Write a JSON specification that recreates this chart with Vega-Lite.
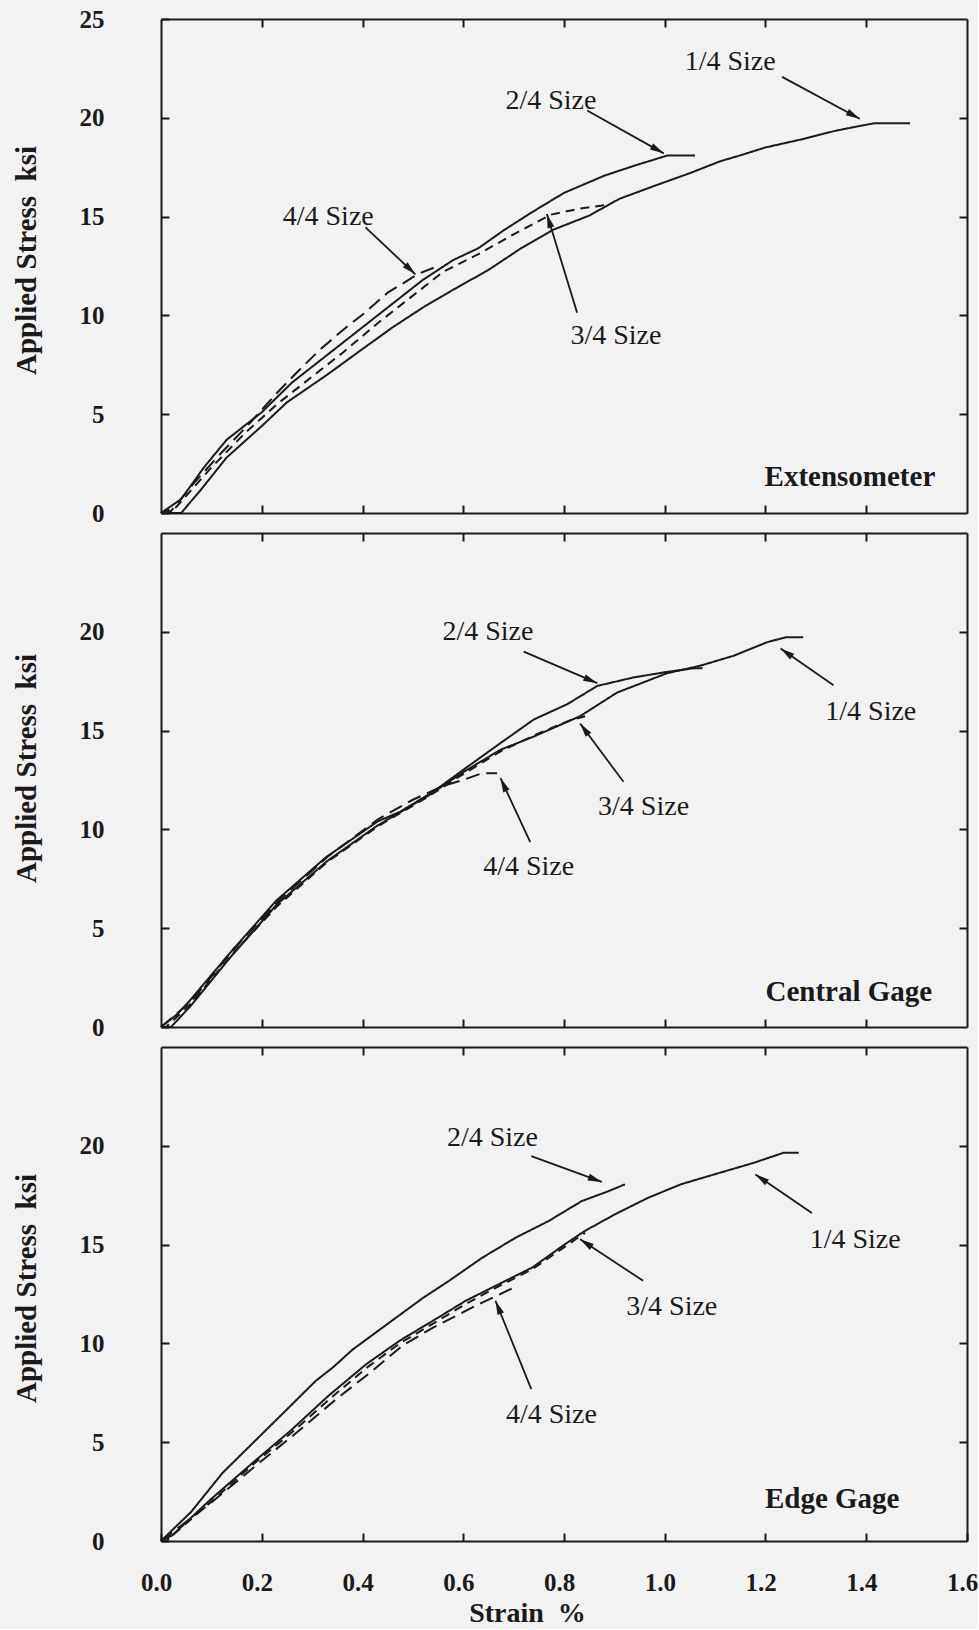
{
  "$schema": "https://vega.github.io/schema/vega-lite/v6.json",
  "background": "#f2f2f2",
  "padding": {"left": 12, "top": 7, "right": 0, "bottom": 2},
  "bounds": "flush",
  "spacing": 20,
  "config": {
    "view": {"stroke": null},
    "axis": {
      "domainColor": "#1a1a1a", "domainWidth": 2,
      "tickColor": "#1a1a1a", "tickWidth": 2, "tickSize": -8,
      "grid": false, "labelFlush": false, "labelOverlap": false,
      "labelFont": "Liberation Serif", "labelFontWeight": "bold", "labelFontSize": 25, "labelColor": "#1a1a1a",
      "titleFont": "Liberation Serif", "titleFontWeight": "bold", "titleColor": "#1a1a1a"
    },
    "text": {"font": "Liberation Serif", "color": "#1a1a1a"}
  },
  "datasets": {
    "curves": [
      {"panel":"ext","size":"1/4","strain":0.0,"stress":0.0},
      {"panel":"ext","size":"1/4","strain":0.04,"stress":0.0},
      {"panel":"ext","size":"1/4","strain":0.08,"stress":1.2},
      {"panel":"ext","size":"1/4","strain":0.13,"stress":2.8},
      {"panel":"ext","size":"1/4","strain":0.2,"stress":4.4},
      {"panel":"ext","size":"1/4","strain":0.25,"stress":5.6},
      {"panel":"ext","size":"1/4","strain":0.33,"stress":7.0},
      {"panel":"ext","size":"1/4","strain":0.4,"stress":8.3},
      {"panel":"ext","size":"1/4","strain":0.46,"stress":9.4},
      {"panel":"ext","size":"1/4","strain":0.52,"stress":10.4},
      {"panel":"ext","size":"1/4","strain":0.58,"stress":11.3},
      {"panel":"ext","size":"1/4","strain":0.65,"stress":12.3},
      {"panel":"ext","size":"1/4","strain":0.715,"stress":13.4},
      {"panel":"ext","size":"1/4","strain":0.78,"stress":14.35},
      {"panel":"ext","size":"1/4","strain":0.85,"stress":15.05},
      {"panel":"ext","size":"1/4","strain":0.91,"stress":15.9},
      {"panel":"ext","size":"1/4","strain":0.98,"stress":16.56},
      {"panel":"ext","size":"1/4","strain":1.05,"stress":17.2},
      {"panel":"ext","size":"1/4","strain":1.11,"stress":17.8},
      {"panel":"ext","size":"1/4","strain":1.15,"stress":18.1},
      {"panel":"ext","size":"1/4","strain":1.2,"stress":18.5},
      {"panel":"ext","size":"1/4","strain":1.27,"stress":18.9},
      {"panel":"ext","size":"1/4","strain":1.34,"stress":19.35},
      {"panel":"ext","size":"1/4","strain":1.39,"stress":19.6},
      {"panel":"ext","size":"1/4","strain":1.417,"stress":19.73},
      {"panel":"ext","size":"1/4","strain":1.487,"stress":19.73},
      {"panel":"ext","size":"2/4","strain":0.0,"stress":0.0},
      {"panel":"ext","size":"2/4","strain":0.04,"stress":0.7},
      {"panel":"ext","size":"2/4","strain":0.085,"stress":2.3},
      {"panel":"ext","size":"2/4","strain":0.13,"stress":3.7},
      {"panel":"ext","size":"2/4","strain":0.2,"stress":5.1},
      {"panel":"ext","size":"2/4","strain":0.26,"stress":6.6},
      {"panel":"ext","size":"2/4","strain":0.33,"stress":8.0},
      {"panel":"ext","size":"2/4","strain":0.4,"stress":9.4},
      {"panel":"ext","size":"2/4","strain":0.46,"stress":10.6},
      {"panel":"ext","size":"2/4","strain":0.52,"stress":11.8},
      {"panel":"ext","size":"2/4","strain":0.58,"stress":12.8},
      {"panel":"ext","size":"2/4","strain":0.63,"stress":13.4},
      {"panel":"ext","size":"2/4","strain":0.68,"stress":14.3},
      {"panel":"ext","size":"2/4","strain":0.735,"stress":15.2},
      {"panel":"ext","size":"2/4","strain":0.8,"stress":16.2},
      {"panel":"ext","size":"2/4","strain":0.88,"stress":17.07},
      {"panel":"ext","size":"2/4","strain":0.94,"stress":17.58},
      {"panel":"ext","size":"2/4","strain":1.005,"stress":18.09},
      {"panel":"ext","size":"2/4","strain":1.06,"stress":18.09},
      {"panel":"ext","size":"3/4","strain":0.0,"stress":0.0},
      {"panel":"ext","size":"3/4","strain":0.03,"stress":0.3},
      {"panel":"ext","size":"3/4","strain":0.1,"stress":2.3},
      {"panel":"ext","size":"3/4","strain":0.165,"stress":4.0},
      {"panel":"ext","size":"3/4","strain":0.23,"stress":5.5},
      {"panel":"ext","size":"3/4","strain":0.3,"stress":6.9},
      {"panel":"ext","size":"3/4","strain":0.36,"stress":8.1},
      {"panel":"ext","size":"3/4","strain":0.43,"stress":9.6},
      {"panel":"ext","size":"3/4","strain":0.5,"stress":11.0},
      {"panel":"ext","size":"3/4","strain":0.56,"stress":12.2},
      {"panel":"ext","size":"3/4","strain":0.63,"stress":13.1},
      {"panel":"ext","size":"3/4","strain":0.7,"stress":14.1},
      {"panel":"ext","size":"3/4","strain":0.774,"stress":15.1},
      {"panel":"ext","size":"3/4","strain":0.83,"stress":15.4},
      {"panel":"ext","size":"3/4","strain":0.886,"stress":15.6},
      {"panel":"ext","size":"4/4","strain":0.0,"stress":0.0},
      {"panel":"ext","size":"4/4","strain":0.02,"stress":0.1},
      {"panel":"ext","size":"4/4","strain":0.065,"stress":1.5},
      {"panel":"ext","size":"4/4","strain":0.118,"stress":3.0},
      {"panel":"ext","size":"4/4","strain":0.171,"stress":4.4},
      {"panel":"ext","size":"4/4","strain":0.231,"stress":6.1},
      {"panel":"ext","size":"4/4","strain":0.277,"stress":7.3},
      {"panel":"ext","size":"4/4","strain":0.317,"stress":8.3},
      {"panel":"ext","size":"4/4","strain":0.363,"stress":9.3},
      {"panel":"ext","size":"4/4","strain":0.403,"stress":10.1},
      {"panel":"ext","size":"4/4","strain":0.45,"stress":11.15},
      {"panel":"ext","size":"4/4","strain":0.483,"stress":11.66},
      {"panel":"ext","size":"4/4","strain":0.51,"stress":12.1},
      {"panel":"ext","size":"4/4","strain":0.545,"stress":12.45},

      {"panel":"cen","size":"1/4","strain":0.0,"stress":0.0},
      {"panel":"cen","size":"1/4","strain":0.02,"stress":0.0},
      {"panel":"cen","size":"1/4","strain":0.06,"stress":1.1},
      {"panel":"cen","size":"1/4","strain":0.14,"stress":3.6},
      {"panel":"cen","size":"1/4","strain":0.23,"stress":6.2},
      {"panel":"cen","size":"1/4","strain":0.33,"stress":8.4},
      {"panel":"cen","size":"1/4","strain":0.43,"stress":10.2},
      {"panel":"cen","size":"1/4","strain":0.53,"stress":11.7},
      {"panel":"cen","size":"1/4","strain":0.6,"stress":12.9},
      {"panel":"cen","size":"1/4","strain":0.674,"stress":14.03},
      {"panel":"cen","size":"1/4","strain":0.74,"stress":14.7},
      {"panel":"cen","size":"1/4","strain":0.832,"stress":15.73},
      {"panel":"cen","size":"1/4","strain":0.905,"stress":16.92},
      {"panel":"cen","size":"1/4","strain":1.004,"stress":17.9},
      {"panel":"cen","size":"1/4","strain":1.07,"stress":18.28},
      {"panel":"cen","size":"1/4","strain":1.137,"stress":18.79},
      {"panel":"cen","size":"1/4","strain":1.203,"stress":19.47},
      {"panel":"cen","size":"1/4","strain":1.242,"stress":19.73},
      {"panel":"cen","size":"1/4","strain":1.275,"stress":19.73},
      {"panel":"cen","size":"2/4","strain":0.0,"stress":0.0},
      {"panel":"cen","size":"2/4","strain":0.03,"stress":0.6},
      {"panel":"cen","size":"2/4","strain":0.056,"stress":1.3},
      {"panel":"cen","size":"2/4","strain":0.142,"stress":3.9},
      {"panel":"cen","size":"2/4","strain":0.229,"stress":6.4},
      {"panel":"cen","size":"2/4","strain":0.328,"stress":8.6},
      {"panel":"cen","size":"2/4","strain":0.43,"stress":10.4},
      {"panel":"cen","size":"2/4","strain":0.475,"stress":10.9},
      {"panel":"cen","size":"2/4","strain":0.54,"stress":11.9},
      {"panel":"cen","size":"2/4","strain":0.61,"stress":13.2},
      {"panel":"cen","size":"2/4","strain":0.674,"stress":14.37},
      {"panel":"cen","size":"2/4","strain":0.74,"stress":15.56},
      {"panel":"cen","size":"2/4","strain":0.806,"stress":16.33},
      {"panel":"cen","size":"2/4","strain":0.866,"stress":17.26},
      {"panel":"cen","size":"2/4","strain":0.938,"stress":17.69},
      {"panel":"cen","size":"2/4","strain":1.004,"stress":17.97},
      {"panel":"cen","size":"2/4","strain":1.057,"stress":18.15},
      {"panel":"cen","size":"2/4","strain":1.075,"stress":18.15},
      {"panel":"cen","size":"3/4","strain":0.0,"stress":0.0},
      {"panel":"cen","size":"3/4","strain":0.01,"stress":0.0},
      {"panel":"cen","size":"3/4","strain":0.06,"stress":1.2},
      {"panel":"cen","size":"3/4","strain":0.14,"stress":3.65},
      {"panel":"cen","size":"3/4","strain":0.23,"stress":6.1},
      {"panel":"cen","size":"3/4","strain":0.33,"stress":8.35},
      {"panel":"cen","size":"3/4","strain":0.43,"stress":10.15},
      {"panel":"cen","size":"3/4","strain":0.53,"stress":11.65},
      {"panel":"cen","size":"3/4","strain":0.6,"stress":12.8},
      {"panel":"cen","size":"3/4","strain":0.674,"stress":13.95},
      {"panel":"cen","size":"3/4","strain":0.74,"stress":14.75},
      {"panel":"cen","size":"3/4","strain":0.81,"stress":15.5},
      {"panel":"cen","size":"3/4","strain":0.842,"stress":15.73},
      {"panel":"cen","size":"4/4","strain":0.0,"stress":0.0},
      {"panel":"cen","size":"4/4","strain":0.06,"stress":1.3},
      {"panel":"cen","size":"4/4","strain":0.14,"stress":3.8},
      {"panel":"cen","size":"4/4","strain":0.23,"stress":6.3},
      {"panel":"cen","size":"4/4","strain":0.33,"stress":8.6},
      {"panel":"cen","size":"4/4","strain":0.43,"stress":10.5},
      {"panel":"cen","size":"4/4","strain":0.5,"stress":11.5},
      {"panel":"cen","size":"4/4","strain":0.56,"stress":12.2},
      {"panel":"cen","size":"4/4","strain":0.6,"stress":12.5},
      {"panel":"cen","size":"4/4","strain":0.637,"stress":12.84},
      {"panel":"cen","size":"4/4","strain":0.667,"stress":12.84},

      {"panel":"edge","size":"1/4","strain":0.0,"stress":0.0},
      {"panel":"edge","size":"1/4","strain":0.023,"stress":0.3},
      {"panel":"edge","size":"1/4","strain":0.097,"stress":2.07},
      {"panel":"edge","size":"1/4","strain":0.184,"stress":4.0},
      {"panel":"edge","size":"1/4","strain":0.258,"stress":5.6},
      {"panel":"edge","size":"1/4","strain":0.332,"stress":7.34},
      {"panel":"edge","size":"1/4","strain":0.408,"stress":8.96},
      {"panel":"edge","size":"1/4","strain":0.474,"stress":10.14},
      {"panel":"edge","size":"1/4","strain":0.54,"stress":11.15},
      {"panel":"edge","size":"1/4","strain":0.605,"stress":12.16},
      {"panel":"edge","size":"1/4","strain":0.671,"stress":13.0},
      {"panel":"edge","size":"1/4","strain":0.737,"stress":13.84},
      {"panel":"edge","size":"1/4","strain":0.802,"stress":15.02},
      {"panel":"edge","size":"1/4","strain":0.842,"stress":15.7},
      {"panel":"edge","size":"1/4","strain":0.901,"stress":16.53},
      {"panel":"edge","size":"1/4","strain":0.967,"stress":17.37},
      {"panel":"edge","size":"1/4","strain":1.032,"stress":18.05},
      {"panel":"edge","size":"1/4","strain":1.098,"stress":18.55},
      {"panel":"edge","size":"1/4","strain":1.177,"stress":19.14},
      {"panel":"edge","size":"1/4","strain":1.236,"stress":19.65},
      {"panel":"edge","size":"1/4","strain":1.266,"stress":19.65},
      {"panel":"edge","size":"2/4","strain":0.0,"stress":0.0},
      {"panel":"edge","size":"2/4","strain":0.06,"stress":1.48},
      {"panel":"edge","size":"2/4","strain":0.122,"stress":3.44},
      {"panel":"edge","size":"2/4","strain":0.184,"stress":5.0},
      {"panel":"edge","size":"2/4","strain":0.246,"stress":6.56},
      {"panel":"edge","size":"2/4","strain":0.307,"stress":8.1},
      {"panel":"edge","size":"2/4","strain":0.342,"stress":8.8},
      {"panel":"edge","size":"2/4","strain":0.381,"stress":9.7},
      {"panel":"edge","size":"2/4","strain":0.443,"stress":10.86},
      {"panel":"edge","size":"2/4","strain":0.52,"stress":12.3},
      {"panel":"edge","size":"2/4","strain":0.572,"stress":13.17},
      {"panel":"edge","size":"2/4","strain":0.638,"stress":14.34},
      {"panel":"edge","size":"2/4","strain":0.704,"stress":15.35},
      {"panel":"edge","size":"2/4","strain":0.77,"stress":16.2},
      {"panel":"edge","size":"2/4","strain":0.835,"stress":17.2},
      {"panel":"edge","size":"2/4","strain":0.888,"stress":17.7},
      {"panel":"edge","size":"2/4","strain":0.921,"stress":18.05},
      {"panel":"edge","size":"3/4","strain":0.0,"stress":0.0},
      {"panel":"edge","size":"3/4","strain":0.01,"stress":0.0},
      {"panel":"edge","size":"3/4","strain":0.1,"stress":2.0},
      {"panel":"edge","size":"3/4","strain":0.184,"stress":3.9},
      {"panel":"edge","size":"3/4","strain":0.26,"stress":5.5},
      {"panel":"edge","size":"3/4","strain":0.34,"stress":7.3},
      {"panel":"edge","size":"3/4","strain":0.41,"stress":8.8},
      {"panel":"edge","size":"3/4","strain":0.474,"stress":10.0},
      {"panel":"edge","size":"3/4","strain":0.54,"stress":11.0},
      {"panel":"edge","size":"3/4","strain":0.605,"stress":12.0},
      {"panel":"edge","size":"3/4","strain":0.671,"stress":12.9},
      {"panel":"edge","size":"3/4","strain":0.737,"stress":13.75},
      {"panel":"edge","size":"3/4","strain":0.802,"stress":14.9},
      {"panel":"edge","size":"3/4","strain":0.842,"stress":15.6},
      {"panel":"edge","size":"4/4","strain":0.0,"stress":0.0},
      {"panel":"edge","size":"4/4","strain":0.1,"stress":1.95},
      {"panel":"edge","size":"4/4","strain":0.19,"stress":3.85},
      {"panel":"edge","size":"4/4","strain":0.27,"stress":5.5},
      {"panel":"edge","size":"4/4","strain":0.344,"stress":7.1},
      {"panel":"edge","size":"4/4","strain":0.419,"stress":8.6},
      {"panel":"edge","size":"4/4","strain":0.48,"stress":9.9},
      {"panel":"edge","size":"4/4","strain":0.54,"stress":10.8},
      {"panel":"edge","size":"4/4","strain":0.632,"stress":12.0},
      {"panel":"edge","size":"4/4","strain":0.707,"stress":12.9}
    ],
    "arrows": [
      {"panel":"ext","label":"1/4 Size","tx":1.13,"ty":22.8,"x1":1.233,"y1":22.07,"x2":1.387,"y2":19.95},
      {"panel":"ext","label":"2/4 Size","tx":0.774,"ty":20.85,"x1":0.846,"y1":20.37,"x2":0.998,"y2":18.2},
      {"panel":"ext","label":"3/4 Size","tx":0.903,"ty":8.95,"x1":0.826,"y1":10.14,"x2":0.766,"y2":15.13},
      {"panel":"ext","label":"4/4 Size","tx":0.332,"ty":15.0,"x1":0.406,"y1":14.45,"x2":0.505,"y2":12.08},
      {"panel":"cen","label":"2/4 Size","tx":0.649,"ty":19.98,"x1":0.72,"y1":19.0,"x2":0.866,"y2":17.4},
      {"panel":"cen","label":"3/4 Size","tx":0.958,"ty":11.14,"x1":0.918,"y1":12.41,"x2":0.832,"y2":15.36},
      {"panel":"cen","label":"4/4 Size","tx":0.73,"ty":8.08,"x1":0.733,"y1":9.35,"x2":0.674,"y2":12.59},
      {"panel":"cen","label":"1/4 Size","tx":1.409,"ty":15.95,"x1":1.335,"y1":17.3,"x2":1.23,"y2":19.15},
      {"panel":"edge","label":"2/4 Size","tx":0.658,"ty":20.4,"x1":0.735,"y1":19.48,"x2":0.875,"y2":18.17},
      {"panel":"edge","label":"1/4 Size","tx":1.378,"ty":15.25,"x1":1.292,"y1":16.6,"x2":1.18,"y2":18.55},
      {"panel":"edge","label":"3/4 Size","tx":1.014,"ty":11.82,"x1":0.957,"y1":13.17,"x2":0.832,"y2":15.27},
      {"panel":"edge","label":"4/4 Size","tx":0.775,"ty":6.39,"x1":0.735,"y1":7.69,"x2":0.664,"y2":12.16}
    ],
    "panels": [
      {"panel":"ext","name":"Extensometer","nx":1.537,"ny":1.36},
      {"panel":"cen","name":"Central Gage","nx":1.531,"ny":1.3},
      {"panel":"edge","name":"Edge Gage","nx":1.466,"ny":1.65}
    ]
  },
  "vconcat": [
    {
      "width": 806, "height": 494,
      "resolve": {"axis": {"x": "independent", "y": "independent"}},
      "layer": [
        {
          "data": {"name": "curves"},
          "transform": [{"filter": "datum.panel === 'ext'"}],
          "mark": {"type": "line", "color": "#1a1a1a", "strokeWidth": 2},
          "encoding": {
            "x": {"field": "strain", "type": "quantitative", "scale": {"domain": [0, 1.6], "nice": false, "zero": false},
                  "axis": {"orient": "bottom", "values": [0.2, 0.4, 0.6, 0.8, 1.0, 1.2, 1.4], "labels": false, "title": null}},
            "y": {"field": "stress", "type": "quantitative", "scale": {"domain": [0, 25], "nice": false},
                  "axis": {"orient": "left", "values": [0, 5, 10, 15, 20, 25], "labelPadding": 65,
                           "title": "Applied Stress\u00a0\u00a0ksi", "titleFontSize": 29, "titlePadding": 38, "titleY": 241}},
            "strokeDash": {"field": "size", "type": "nominal",
                           "scale": {"domain": ["1/4", "2/4", "3/4", "4/4"], "range": [[1, 0], [1, 0], [9, 6], [14, 7]]}, "legend": null}
          }
        },
        {
          "data": {"name": "arrows"},
          "transform": [{"filter": "datum.panel === 'ext'"}],
          "mark": {"type": "rule", "color": "#1a1a1a", "strokeWidth": 1.8},
          "encoding": {
            "x": {"field": "x1", "type": "quantitative", "scale": {"domain": [0, 1.6], "nice": false, "zero": false},
                  "axis": {"orient": "top", "values": [0.2, 0.4, 0.6, 0.8, 1.0, 1.2, 1.4], "labels": false, "title": null}},
            "y": {"field": "y1", "type": "quantitative", "scale": {"domain": [0, 25], "nice": false},
                  "axis": {"orient": "right", "values": [5, 10, 15, 20], "labels": false, "title": null}},
            "x2": {"field": "x2"},
            "y2": {"field": "y2"}
          }
        },
        {
          "data": {"name": "arrows"},
          "transform": [{"filter": "datum.panel === 'ext'"},
                        {"calculate": "atan2((datum.x2 - datum.x1) * 503.75, (datum.y2 - datum.y1) * 19.76) * 180 / PI", "as": "heading"}],
          "mark": {"type": "point", "shape": "M0,0L-0.5,2L0.5,2Z", "filled": true, "color": "#1a1a1a", "size": 196, "opacity": 1},
          "encoding": {
            "x": {"field": "x2", "type": "quantitative", "axis": null},
            "y": {"field": "y2", "type": "quantitative", "axis": null},
            "angle": {"field": "heading", "type": "quantitative", "scale": null}
          }
        },
        {
          "data": {"name": "arrows"},
          "transform": [{"filter": "datum.panel === 'ext'"}],
          "mark": {"type": "text", "fontSize": 28, "align": "center", "baseline": "middle"},
          "encoding": {
            "x": {"field": "tx", "type": "quantitative", "axis": null},
            "y": {"field": "ty", "type": "quantitative", "axis": null},
            "text": {"field": "label"}
          }
        },
        {
          "data": {"name": "panels"},
          "transform": [{"filter": "datum.panel === 'ext'"}],
          "mark": {"type": "text", "fontSize": 29, "fontWeight": "bold", "align": "right", "baseline": "alphabetic"},
          "encoding": {
            "x": {"field": "nx", "type": "quantitative", "axis": null},
            "y": {"field": "ny", "type": "quantitative", "axis": null},
            "text": {"field": "name"}
          }
        }
      ]
    },
    {
      "width": 806, "height": 494,
      "resolve": {"axis": {"x": "independent", "y": "independent"}},
      "layer": [
        {
          "data": {"name": "curves"},
          "transform": [{"filter": "datum.panel === 'cen'"}],
          "mark": {"type": "line", "color": "#1a1a1a", "strokeWidth": 2},
          "encoding": {
            "x": {"field": "strain", "type": "quantitative", "scale": {"domain": [0, 1.6], "nice": false, "zero": false},
                  "axis": {"orient": "bottom", "values": [0.2, 0.4, 0.6, 0.8, 1.0, 1.2, 1.4], "labels": false, "title": null}},
            "y": {"field": "stress", "type": "quantitative", "scale": {"domain": [0, 25], "nice": false},
                  "axis": {"orient": "left", "values": [0, 5, 10, 15, 20], "labelPadding": 65,
                           "title": "Applied Stress\u00a0\u00a0ksi", "titleFontSize": 29, "titlePadding": 38, "titleY": 235}},
            "strokeDash": {"field": "size", "type": "nominal",
                           "scale": {"domain": ["1/4", "2/4", "3/4", "4/4"], "range": [[1, 0], [1, 0], [9, 6], [14, 7]]}, "legend": null}
          }
        },
        {
          "data": {"name": "arrows"},
          "transform": [{"filter": "datum.panel === 'cen'"}],
          "mark": {"type": "rule", "color": "#1a1a1a", "strokeWidth": 1.8},
          "encoding": {
            "x": {"field": "x1", "type": "quantitative", "scale": {"domain": [0, 1.6], "nice": false, "zero": false},
                  "axis": {"orient": "top", "values": [0.2, 0.4, 0.6, 0.8, 1.0, 1.2, 1.4], "labels": false, "title": null}},
            "y": {"field": "y1", "type": "quantitative", "scale": {"domain": [0, 25], "nice": false},
                  "axis": {"orient": "right", "values": [5, 10, 15, 20], "labels": false, "title": null}},
            "x2": {"field": "x2"},
            "y2": {"field": "y2"}
          }
        },
        {
          "data": {"name": "arrows"},
          "transform": [{"filter": "datum.panel === 'cen'"},
                        {"calculate": "atan2((datum.x2 - datum.x1) * 503.75, (datum.y2 - datum.y1) * 19.76) * 180 / PI", "as": "heading"}],
          "mark": {"type": "point", "shape": "M0,0L-0.5,2L0.5,2Z", "filled": true, "color": "#1a1a1a", "size": 196, "opacity": 1},
          "encoding": {
            "x": {"field": "x2", "type": "quantitative", "axis": null},
            "y": {"field": "y2", "type": "quantitative", "axis": null},
            "angle": {"field": "heading", "type": "quantitative", "scale": null}
          }
        },
        {
          "data": {"name": "arrows"},
          "transform": [{"filter": "datum.panel === 'cen'"}],
          "mark": {"type": "text", "fontSize": 28, "align": "center", "baseline": "middle"},
          "encoding": {
            "x": {"field": "tx", "type": "quantitative", "axis": null},
            "y": {"field": "ty", "type": "quantitative", "axis": null},
            "text": {"field": "label"}
          }
        },
        {
          "data": {"name": "panels"},
          "transform": [{"filter": "datum.panel === 'cen'"}],
          "mark": {"type": "text", "fontSize": 29, "fontWeight": "bold", "align": "right", "baseline": "alphabetic"},
          "encoding": {
            "x": {"field": "nx", "type": "quantitative", "axis": null},
            "y": {"field": "ny", "type": "quantitative", "axis": null},
            "text": {"field": "name"}
          }
        }
      ]
    },
    {
      "width": 806, "height": 494,
      "resolve": {"axis": {"x": "independent", "y": "independent"}},
      "layer": [
        {
          "data": {"name": "curves"},
          "transform": [{"filter": "datum.panel === 'edge'"}],
          "mark": {"type": "line", "color": "#1a1a1a", "strokeWidth": 2},
          "encoding": {
            "x": {"field": "strain", "type": "quantitative", "scale": {"domain": [0, 1.6], "nice": false, "zero": false},
                  "axis": {"orient": "bottom", "values": [0, 0.2, 0.4, 0.6, 0.8, 1.0, 1.2, 1.4, 1.6], "format": ".1f", "labelPadding": 37, "labelOffset": -5,
                           "title": "Strain\u00a0\u00a0%", "titleFontSize": 28, "titleX": 366}},
            "y": {"field": "stress", "type": "quantitative", "scale": {"domain": [0, 25], "nice": false},
                  "axis": {"orient": "left", "values": [0, 5, 10, 15, 20], "labelPadding": 65,
                           "title": "Applied Stress\u00a0\u00a0ksi", "titleFontSize": 29, "titlePadding": 38, "titleY": 241}},
            "strokeDash": {"field": "size", "type": "nominal",
                           "scale": {"domain": ["1/4", "2/4", "3/4", "4/4"], "range": [[1, 0], [1, 0], [9, 6], [14, 7]]}, "legend": null}
          }
        },
        {
          "data": {"name": "arrows"},
          "transform": [{"filter": "datum.panel === 'edge'"}],
          "mark": {"type": "rule", "color": "#1a1a1a", "strokeWidth": 1.8},
          "encoding": {
            "x": {"field": "x1", "type": "quantitative", "scale": {"domain": [0, 1.6], "nice": false, "zero": false},
                  "axis": {"orient": "top", "values": [0.2, 0.4, 0.6, 0.8, 1.0, 1.2, 1.4], "labels": false, "title": null}},
            "y": {"field": "y1", "type": "quantitative", "scale": {"domain": [0, 25], "nice": false},
                  "axis": {"orient": "right", "values": [5, 10, 15, 20], "labels": false, "title": null}},
            "x2": {"field": "x2"},
            "y2": {"field": "y2"}
          }
        },
        {
          "data": {"name": "arrows"},
          "transform": [{"filter": "datum.panel === 'edge'"},
                        {"calculate": "atan2((datum.x2 - datum.x1) * 503.75, (datum.y2 - datum.y1) * 19.76) * 180 / PI", "as": "heading"}],
          "mark": {"type": "point", "shape": "M0,0L-0.5,2L0.5,2Z", "filled": true, "color": "#1a1a1a", "size": 196, "opacity": 1},
          "encoding": {
            "x": {"field": "x2", "type": "quantitative", "axis": null},
            "y": {"field": "y2", "type": "quantitative", "axis": null},
            "angle": {"field": "heading", "type": "quantitative", "scale": null}
          }
        },
        {
          "data": {"name": "arrows"},
          "transform": [{"filter": "datum.panel === 'edge'"}],
          "mark": {"type": "text", "fontSize": 28, "align": "center", "baseline": "middle"},
          "encoding": {
            "x": {"field": "tx", "type": "quantitative", "axis": null},
            "y": {"field": "ty", "type": "quantitative", "axis": null},
            "text": {"field": "label"}
          }
        },
        {
          "data": {"name": "panels"},
          "transform": [{"filter": "datum.panel === 'edge'"}],
          "mark": {"type": "text", "fontSize": 29, "fontWeight": "bold", "align": "right", "baseline": "alphabetic"},
          "encoding": {
            "x": {"field": "nx", "type": "quantitative", "axis": null},
            "y": {"field": "ny", "type": "quantitative", "axis": null},
            "text": {"field": "name"}
          }
        }
      ]
    }
  ]
}
